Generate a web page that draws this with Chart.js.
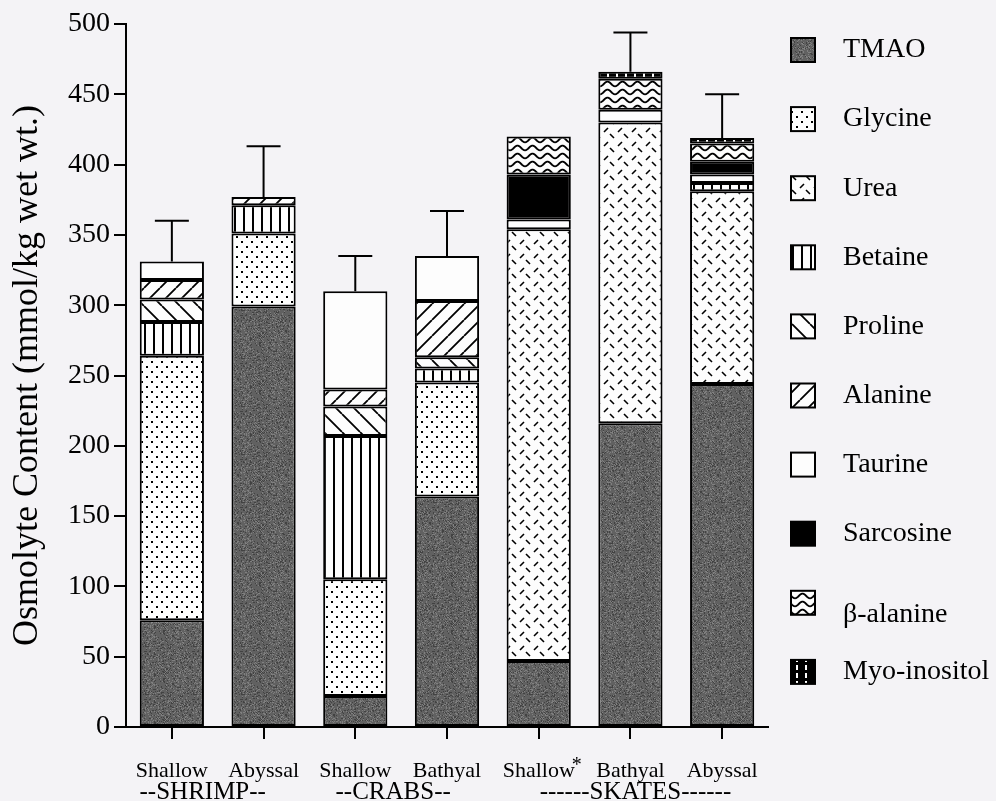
<!DOCTYPE html>
<html>
<head>
<meta charset="utf-8">
<script src="https://cdn.jsdelivr.net/npm/chart.js@4"></script>
<style>
  html, body { margin: 0; padding: 0; background: #f4f3f6; }
  #wrap { width: 996px; height: 801px; position: relative; }
</style>
</head>
<body>
<div id="wrap"><canvas id="osmolytes"></canvas></div>
<script>
// categories along x, then one array per osmolyte (mmol/kg wet wt.)
const categories = ['Shallow', 'Abyssal', 'Shallow', 'Bathyal', 'Shallow', 'Bathyal', 'Abyssal'];
const groupNames = ['--SHRIMP--', '--CRABS--', '------SKATES------'];
const groupFirst = [0, 2, 4];
const groupLast = [1, 3, 6];

const tmao      = [76, 299, 22, 164, 47, 216, 244];
const glycine   = [188, 52, 83, 81, 0, 0, 0];
const urea      = [0, 0, 0, 0, 307, 214, 137];
const betaine   = [24, 20, 102, 10, 0, 0, 6];
const proline   = [16, 0, 21, 8, 0, 0, 0];
const alanine   = [14, 6, 12, 40, 0, 0, 0];
const taurine   = [13, 0, 70, 32, 7, 9, 6];
const sarcosine = [0, 0, 0, 0, 32, 0, 9];
const bAlanine  = [0, 0, 0, 0, 27, 22, 13];
const myoInos   = [0, 0, 0, 0, 0, 5, 4];
const errorUp   = [29, 36, 25, 32, 0, 28, 31];

const yTicks = [0, 50, 100, 150, 200, 250, 300, 350, 400, 450, 500];

const serif = 'Liberation Serif';
const canvas = document.getElementById('osmolytes');
const mainCtx = canvas.getContext('2d');

// fill patterns like the old print hatchings
function tile(w, h, draw) {
  const c = document.createElement('canvas');
  c.width = w; c.height = h;
  const g = c.getContext('2d');
  draw(g, w, h);
  return mainCtx.createPattern(c, 'repeat');
}

let seed = 7;
function rnd() { seed = (seed * 16807) % 2147483647; return seed / 2147483647; }

const fills = {
  tmao: tile(48, 48, (g, w, h) => {
    g.fillStyle = '#616161'; g.fillRect(0, 0, w, h);
    for (let i = 0; i < 900; i++) {
      g.fillStyle = rnd() < 0.55 ? '#424242' : '#808080';
      g.fillRect(Math.floor(rnd() * w), Math.floor(rnd() * h), 1, 1);
    }
  }),
  glycine: tile(10, 10, (g, w, h) => {
    g.fillStyle = '#fdfdfd'; g.fillRect(0, 0, w, h);
    g.fillStyle = '#000';
    g.fillRect(1, 1, 2, 2); g.fillRect(6, 6, 2, 2);
  }),
  urea: tile(14, 14, (g, w, h) => {
    g.fillStyle = '#fdfdfd'; g.fillRect(0, 0, w, h);
    g.strokeStyle = '#000'; g.lineWidth = 1.6;
    g.beginPath();
    g.moveTo(2, 6); g.lineTo(6, 2);
    g.moveTo(8, 8); g.lineTo(12, 12);
    g.stroke();
  }),
  betaine: tile(9, 9, (g, w, h) => {
    g.fillStyle = '#fdfdfd'; g.fillRect(0, 0, w, h);
    g.fillStyle = '#000'; g.fillRect(0, 0, 2, h);
  }),
  proline: tile(18, 18, (g, w, h) => {
    g.fillStyle = '#fdfdfd'; g.fillRect(0, 0, w, h);
    g.strokeStyle = '#000'; g.lineWidth = 1.8;
    g.beginPath();
    for (let k = -1; k <= 1; k++) { g.moveTo(k * w, 0); g.lineTo(k * w + w, h); }
    g.stroke();
  }),
  alanine: tile(16, 16, (g, w, h) => {
    g.fillStyle = '#fdfdfd'; g.fillRect(0, 0, w, h);
    g.strokeStyle = '#000'; g.lineWidth = 1.8;
    g.beginPath();
    for (let k = -1; k <= 1; k++) { g.moveTo(k * w, h); g.lineTo(k * w + w, 0); }
    g.stroke();
  }),
  taurine: '#fdfdfd',
  sarcosine: '#000000',
  bAlanine: tile(15, 8, (g, w, h) => {
    g.fillStyle = '#fdfdfd'; g.fillRect(0, 0, w, h);
    g.strokeStyle = '#000'; g.lineWidth = 1.8;
    g.beginPath();
    for (let x = 0; x <= w; x++) {
      const y = 4 + 2.4 * Math.cos(2 * Math.PI * x / w);
      x ? g.lineTo(x, y) : g.moveTo(x, y);
    }
    g.stroke();
  }),
  myo: tile(9, 8, (g, w, h) => {
    g.fillStyle = '#000'; g.fillRect(0, 0, w, h);
    g.fillStyle = '#fff'; g.fillRect(4, 1, 2, 5);
  })
};

const series = [
  ['TMAO', tmao, fills.tmao],
  ['Glycine', glycine, fills.glycine],
  ['Urea', urea, fills.urea],
  ['Betaine', betaine, fills.betaine],
  ['Proline', proline, fills.proline],
  ['Alanine', alanine, fills.alanine],
  ['Taurine', taurine, fills.taurine],
  ['Sarcosine', sarcosine, fills.sarcosine],
  ['\u03B2-alanine', bAlanine, fills.bAlanine],
  ['Myo-inositol', myoInos, fills.myo]
];

const errorBars = {
  id: 'errorBars',
  afterDatasetsDraw(chart) {
    const { ctx, scales: { x, y } } = chart;
    ctx.save();
    ctx.strokeStyle = '#000';
    ctx.lineWidth = 2;
    categories.forEach((c, i) => {
      if (!errorUp[i]) return;
      const total = chart.data.datasets.reduce((s, d) => s + (d.data[i] || 0), 0);
      const px = x.getPixelForValue(i);
      const y0 = y.getPixelForValue(total);
      const y1 = y.getPixelForValue(total + errorUp[i]);
      ctx.beginPath();
      ctx.moveTo(px, y0); ctx.lineTo(px, y1);
      ctx.moveTo(px - 17, y1); ctx.lineTo(px + 17, y1);
      ctx.stroke();
    });
    ctx.restore();
  }
};

const groupShift = [-15, -8, 5];

const extras = {
  id: 'extras',
  afterDraw(chart) {
    const { ctx, scales: { x } } = chart;
    ctx.save();
    ctx.fillStyle = '#000';
    // group names under the tick labels
    ctx.font = '25px "' + serif + '"';
    ctx.textAlign = 'center';
    ctx.textBaseline = 'alphabetic';
    groupNames.forEach((name, i) => {
      const cx = (x.getPixelForValue(groupFirst[i]) + x.getPixelForValue(groupLast[i])) / 2;
      ctx.fillText(name, cx + groupShift[i], 799);
    });
    // asterisk after the skate "Shallow"
    ctx.font = '20px "' + serif + '"';
    ctx.fillText('*', x.getPixelForValue(4) + 38, 771);

    // legend
    ctx.textAlign = 'left';
    ctx.textBaseline = 'middle';
    ctx.font = '28px "' + serif + '"';
    series.forEach((s, i) => {
      const cy = 50 + i * 69.1;
      ctx.fillStyle = s[2];
      ctx.fillRect(791, cy - 12, 24, 24);
      ctx.strokeStyle = '#000';
      ctx.lineWidth = 2;
      ctx.strokeRect(791, cy - 12, 24, 24);
      ctx.fillStyle = '#000';
      ctx.fillText(s[0], 843, i === 8 ? cy + 12 : cy);
    });
    ctx.restore();
  }
};

new Chart(canvas, {
  type: 'bar',
  data: {
    labels: categories,
    datasets: series.map(s => ({
      label: s[0],
      data: s[1],
      backgroundColor: s[2],
      borderColor: '#000',
      borderWidth: 2,
      borderSkipped: false,
      barPercentage: 0.7,
      categoryPercentage: 1.0
    }))
  },
  options: {
    responsive: true,
    maintainAspectRatio: false,
    animation: false,
    layout: { padding: { left: 0, right: 228, top: 24, bottom: 0 } },
    plugins: { legend: { display: false }, tooltip: { enabled: false } },
    scales: {
      x: {
        stacked: true,
        offset: true,
        grid: { offset: false, drawOnChartArea: false, tickLength: 12, color: '#000', lineWidth: 2 },
        border: { color: '#000', width: 2 },
        ticks: { font: { family: serif, size: 22 }, color: '#000', padding: 19, maxRotation: 0, autoSkip: false },
        afterFit: s => { s.height = 74; }
      },
      y: {
        stacked: true,
        min: 0,
        max: 500,
        afterBuildTicks: s => { s.ticks = yTicks.map(v => ({ value: v })); },
        grid: { drawOnChartArea: false, tickLength: 12, color: '#000', lineWidth: 2 },
        border: { color: '#000', width: 2 },
        ticks: { font: { family: serif, size: 28 }, color: '#000', padding: 4 },
        title: {
          display: true,
          text: 'Osmolyte Content (mmol/kg wet wt.)',
          font: { family: serif, size: 36 },
          color: '#000',
          padding: { top: 6, bottom: 0 }
        },
        afterFit: s => { s.width = 126; }
      }
    }
  },
  plugins: [errorBars, extras]
});
</script>
</body>
</html>
